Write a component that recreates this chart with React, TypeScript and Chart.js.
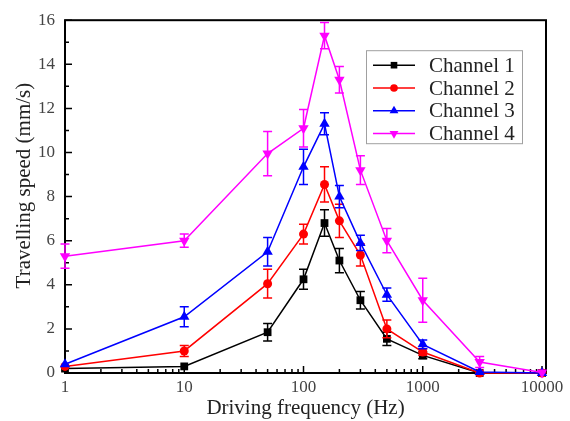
import React, { useEffect, useRef } from 'react';
import { Chart, registerables } from 'chart.js';

Chart.register(...registerables);

const frequencies = [1, 10, 50, 100, 150, 200, 300, 500, 1000, 3000, 10000];
const channelNames = ['Channel 1', 'Channel 2', 'Channel 3', 'Channel 4'];
const ch1 = [0.2, 0.3, 1.85, 4.25, 6.8, 5.1, 3.3, 1.55, 0.8, 0, 0];
const ch1Err = [0.05, 0.05, 0.4, 0.45, 0.6, 0.55, 0.4, 0.3, 0.15, 0, 0];
const ch2 = [0.3, 1.0, 4.05, 6.3, 8.55, 6.9, 5.35, 2.0, 0.95, 0, 0];
const ch2Err = [0.05, 0.25, 0.65, 0.45, 0.8, 0.75, 0.5, 0.4, 0.15, 0, 0];
const ch3 = [0.4, 2.55, 5.5, 9.35, 11.3, 8.0, 5.9, 3.55, 1.3, 0.05, 0];
const ch3Err = [0.05, 0.45, 0.65, 0.8, 0.5, 0.5, 0.35, 0.3, 0.2, 0, 0];
const ch4 = [5.3, 6.0, 9.95, 11.1, 15.3, 13.3, 9.2, 6.0, 3.3, 0.5, 0.02];
const ch4Err = [0.55, 0.3, 1.0, 0.85, 0.6, 0.6, 0.65, 0.55, 1.0, 0.25, 0];
const xTickValues = [1, 10, 100, 1000, 10000];
const xTitle = 'Driving frequency (Hz)';
const yTitle = 'Travelling speed (mm/s)';

const seriesValues = [ch1, ch2, ch3, ch4];
const seriesErrors = [ch1Err, ch2Err, ch3Err, ch4Err];
const colors = ['#000000', '#ff0000', '#0000ff', '#ff00ff'];
const pointStyles = ['rect', 'circle', 'triangle', 'triangle'];
const pointRotations = [0, 0, 0, 180];
const pointRadii = [5.5, 4.5, 6, 6];

const FONT = '"Liberation Serif", "Times New Roman", serif';

function drawMarker(ctx: CanvasRenderingContext2D, style: string, rot: number, r: number, x: number, y: number) {
  ctx.beginPath();
  if (style === 'rect') {
    const s = Math.SQRT1_2 * r;
    ctx.rect(x - s, y - s, 2 * s, 2 * s);
  } else if (style === 'circle') {
    ctx.arc(x, y, r, 0, Math.PI * 2);
  } else {
    let a = (rot * Math.PI) / 180;
    for (let k = 0; k < 3; k++) {
      const px = x + Math.sin(a) * r;
      const py = y - Math.cos(a) * r;
      if (k === 0) ctx.moveTo(px, py);
      else ctx.lineTo(px, py);
      a += (2 * Math.PI) / 3;
    }
    ctx.closePath();
  }
  ctx.fill();
}

const boxAndTicks = {
  id: 'boxAndTicks',
  beforeDatasetsDraw(chart: any) {
    const { ctx, chartArea: a, scales } = chart;
    const xs = scales.x;
    const ys = scales.y;
    ctx.save();
    ctx.strokeStyle = '#000';
    ctx.lineWidth = 1.5;
    ctx.beginPath();
    for (let d = 1; d <= 10000; d *= 10) {
      for (let m = 1; m <= 9; m++) {
        const v = d * m;
        if (v > xs.max) break;
        const len = m === 1 ? 7 : 4;
        const px = xs.getPixelForValue(v);
        ctx.moveTo(px, a.bottom);
        ctx.lineTo(px, a.bottom - len);
      }
    }
    for (let v = 0; v <= 16; v++) {
      const len = v % 2 === 0 ? 7 : 4;
      const py = ys.getPixelForValue(v);
      ctx.moveTo(a.left, py);
      ctx.lineTo(a.left + len, py);
    }
    ctx.stroke();
    ctx.lineWidth = 2;
    ctx.strokeRect(a.left, a.top, a.right - a.left, a.bottom - a.top);
    // y axis title
    ctx.save();
    ctx.translate(24, (a.top + a.bottom) / 2 - 11);
    ctx.rotate(-Math.PI / 2);
    ctx.fillStyle = '#222';
    ctx.font = `21px ${FONT}`;
    ctx.textAlign = 'center';
    ctx.textBaseline = 'middle';
    ctx.fillText(yTitle, 0, 0);
    ctx.restore();
    ctx.restore();
  },
};

const errorBars = {
  id: 'errorBars',
  afterDatasetDraw(chart: any, args: any) {
    const idx = args.index;
    const meta = chart.getDatasetMeta(idx);
    const ys = chart.scales.y;
    const errs = seriesErrors[idx];
    const vals = seriesValues[idx];
    const ctx = chart.ctx;
    ctx.save();
    ctx.strokeStyle = colors[idx];
    ctx.lineWidth = 1.5;
    ctx.beginPath();
    meta.data.forEach((pt: any, i: number) => {
      const e = errs[i];
      if (!e || e < 0.06) return;
      const yt = ys.getPixelForValue(vals[i] + e);
      const yb = ys.getPixelForValue(vals[i] - e);
      const x = pt.x;
      ctx.moveTo(x, yt);
      ctx.lineTo(x, yb);
      ctx.moveTo(x - 4.5, yt);
      ctx.lineTo(x + 4.5, yt);
      ctx.moveTo(x - 4.5, yb);
      ctx.lineTo(x + 4.5, yb);
    });
    ctx.stroke();
    ctx.restore();
  },
};

const legendBox = {
  id: 'legendBox',
  afterDraw(chart: any) {
    const { ctx, chartArea: a } = chart;
    const right = a.right - 24;
    const left = right - 156;
    const top = a.top + 30;
    const h = 93;
    ctx.save();
    ctx.fillStyle = '#ffffff';
    ctx.fillRect(left, top, right - left, h);
    ctx.strokeStyle = '#a0a0a0';
    ctx.lineWidth = 1;
    ctx.strokeRect(left + 0.5, top + 0.5, right - left, h);
    channelNames.forEach((name, i) => {
      const y = top + 15 + i * 22.8;
      ctx.strokeStyle = colors[i];
      ctx.fillStyle = colors[i];
      ctx.lineWidth = 1.5;
      ctx.beginPath();
      ctx.moveTo(left + 7, y);
      ctx.lineTo(left + 49, y);
      ctx.stroke();
      drawMarker(ctx, pointStyles[i], pointRotations[i], pointRadii[i] * 0.85, left + 28, y);
      ctx.fillStyle = '#222';
      ctx.font = `21px ${FONT}`;
      ctx.textBaseline = 'middle';
      ctx.textAlign = 'left';
      ctx.fillText(name, left + 63, y + 1);
    });
    ctx.restore();
  },
};

export default function App() {
  const ref = useRef<HTMLCanvasElement | null>(null);
  useEffect(() => {
    if (!ref.current) return;
    const datasets = seriesValues.map((vals, i) => ({
      label: channelNames[i],
      data: vals.map((v, j) => ({ x: frequencies[j], y: v })),
      borderColor: colors[i],
      backgroundColor: colors[i],
      borderWidth: 1.5,
      pointStyle: pointStyles[i],
      rotation: pointRotations[i],
      pointRadius: pointRadii[i],
      pointBorderWidth: 0,
      tension: 0,
      clip: false as any,
      order: 3 - i,
    }));
    const chart = new Chart(ref.current, {
      type: 'line',
      data: { datasets },
      plugins: [boxAndTicks, errorBars, legendBox],
      options: {
        responsive: false,
        animation: false,
        layout: { padding: { left: 0, top: 16, right: 24, bottom: 0 } },
        plugins: { legend: { display: false }, tooltip: { enabled: false } },
        scales: {
          x: {
            type: 'logarithmic',
            min: 1,
            max: 10800,
            afterBuildTicks: (scale: any) => {
              scale.ticks = xTickValues.map((v) => ({ value: v }));
            },
            afterFit: (scale: any) => {
              scale.height = 48;
            },
            grid: { display: false, drawTicks: false },
            border: { display: false },
            ticks: {
              autoSkip: false,
              maxRotation: 0,
              padding: 4,
              color: '#444',
              font: { family: FONT, size: 17 },
              callback: (v: any) => String(v),
            },
            title: {
              display: true,
              text: xTitle,
              color: '#222',
              font: { family: FONT, size: 21 },
              padding: { top: 0, bottom: 0 },
            },
          },
          y: {
            type: 'linear',
            min: 0,
            max: 16,
            afterFit: (scale: any) => {
              scale.width = 65;
            },
            grid: { display: false, drawTicks: false },
            border: { display: false },
            ticks: {
              stepSize: 2,
              padding: 10,
              color: '#444',
              font: { family: FONT, size: 17 },
            },
            title: { display: false },
          },
        },
      },
    });
    return () => chart.destroy();
  }, []);
  return (
    <div style={{ position: 'absolute', left: 0, top: 0, width: 570, height: 421, background: '#fff' }}>
      <canvas ref={ref} width={570} height={421} style={{ display: 'block' }} />
    </div>
  );
}
